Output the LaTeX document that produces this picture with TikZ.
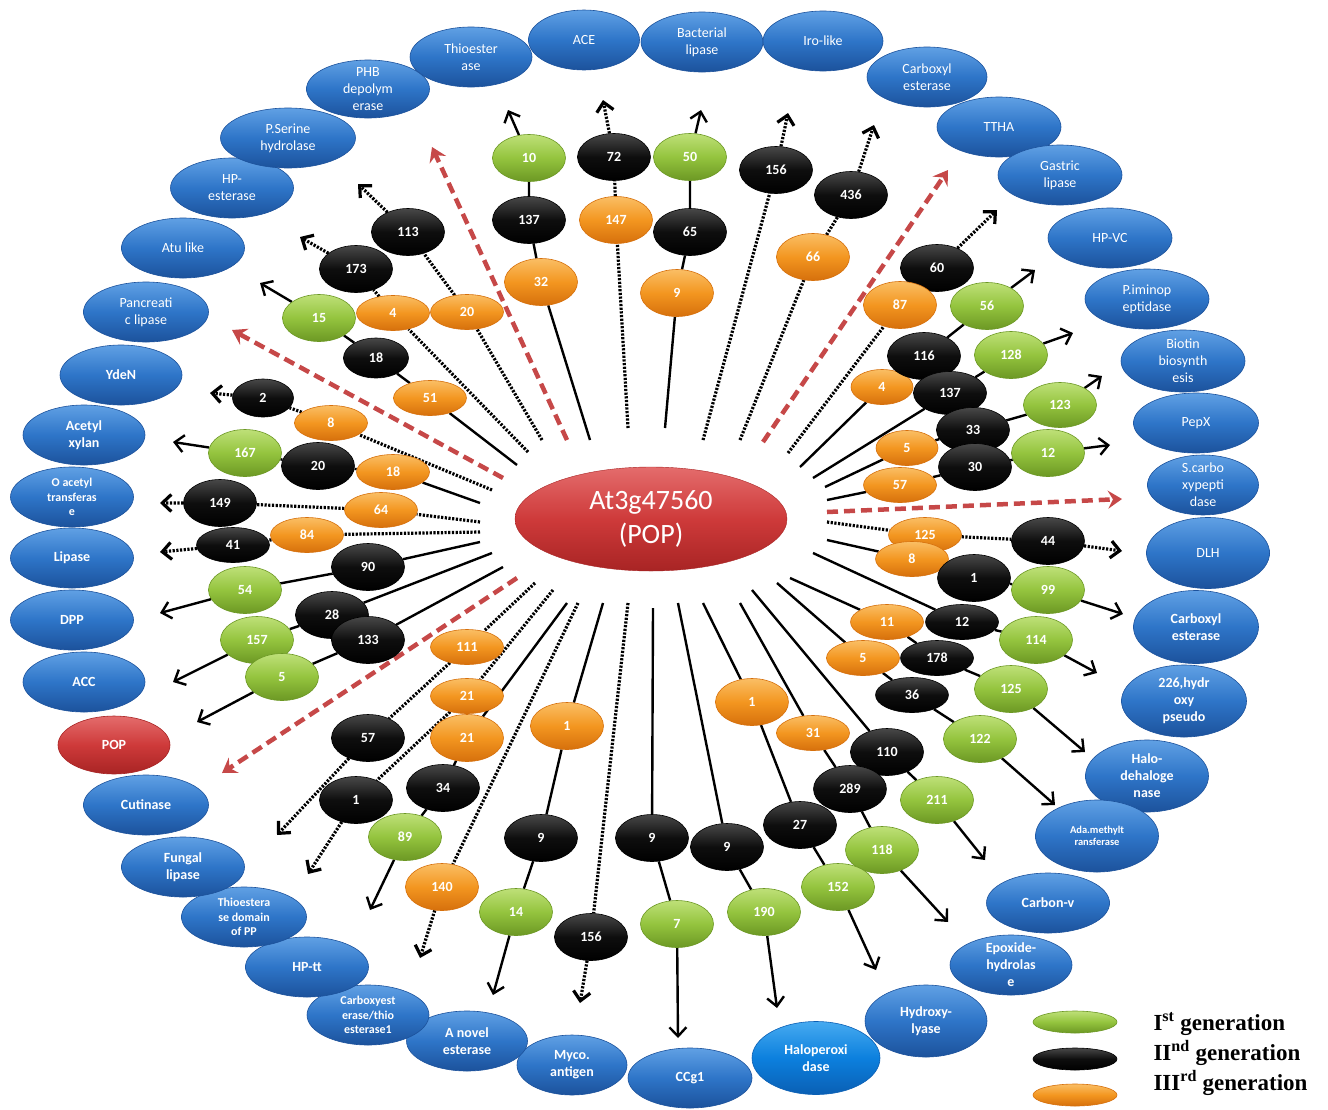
\documentclass[tikz,border=0pt]{standalone}
\usepackage{fontspec}
\setmainfont{Carlito}
\newfontfamily\legendfont{Liberation Serif}
\usetikzlibrary{arrows.meta,positioning,shapes.geometric,backgrounds}

\definecolor{enzmid}{RGB}{46,117,200}
\definecolor{enztop}{RGB}{96,160,228}
\definecolor{enzbot}{RGB}{28,82,156}
\definecolor{halomid}{RGB}{12,128,222}
\definecolor{halotop}{RGB}{70,170,240}
\definecolor{halobot}{RGB}{10,95,180}
\definecolor{grnmid}{RGB}{148,196,62}
\definecolor{grntop}{RGB}{190,224,120}
\definecolor{grnbot}{RGB}{108,152,36}
\definecolor{blkmid}{RGB}{14,14,14}
\definecolor{blktop}{RGB}{72,72,72}
\definecolor{blkbot}{RGB}{0,0,0}
\definecolor{orgmid}{RGB}{243,150,32}
\definecolor{orgtop}{RGB}{250,190,100}
\definecolor{orgbot}{RGB}{214,112,12}
\definecolor{hubmid}{RGB}{206,58,58}
\definecolor{hubtop}{RGB}{228,108,108}
\definecolor{hubbot}{RGB}{168,36,36}
\definecolor{rayred}{RGB}{198,72,72}

\begin{document}
\begin{tikzpicture}[
  x=1pt, y=-1pt,
  >={Straight Barb[length=9pt,width=17pt]},
  enz/.style={ellipse, minimum width=122pt, minimum height=60pt, inner sep=-12pt,
              top color=enztop, bottom color=enzbot, middle color=enzmid,
              draw=enzbot, line width=0.6pt, text=white, align=center,
              font=\fontsize{14}{17}\selectfont},
  enzb/.style={enz, font=\fontsize{14}{17}\selectfont\bfseries},
  smalltxt/.style={font=\fontsize{12}{14.5}\selectfont\bfseries},
  tinytxt/.style={font=\fontsize{10.5}{12}\selectfont\bfseries},
  halo/.style={top color=halotop, bottom color=halobot, middle color=halomid, draw=halobot},
  redenz/.style={top color=hubtop, bottom color=hubbot, middle color=hubmid, draw=hubbot},
  gen/.style={ellipse, minimum width=73pt, minimum height=47pt, inner sep=0pt,
              line width=0.6pt, text=white, font=\fontsize{14}{16}\selectfont\bfseries},
  genI/.style={gen, top color=grntop, bottom color=grnbot, middle color=grnmid, draw=grnbot},
  genII/.style={gen, top color=blktop, bottom color=blkbot, middle color=blkmid, draw=blkbot},
  genIII/.style={gen, top color=orgtop, bottom color=orgbot, middle color=orgmid, draw=orgbot},
  flat/.style={minimum height=35pt},
  legkey/.style={minimum width=84pt, minimum height=22pt},
  legtxt/.style={inner sep=0pt, font=\legendfont\bfseries\fontsize{23}{25}\selectfont},
  hub/.style={ellipse, minimum width=272pt, minimum height=104pt, inner sep=0pt,
              top color=hubtop, bottom color=hubbot, middle color=hubmid, draw=hubbot,
              text=white, align=center, font=\fontsize{28}{34}\selectfont},
  link/.style={->, line width=2.4pt},
  dlink/.style={->, line width=3.2pt, dash pattern=on 2.2pt off 1.5pt},
  ray/.style={rayred, line width=4.5pt, dash pattern=on 11pt off 6pt,
              -{Stealth[length=14pt,width=18pt,inset=5pt]}},
]
\useasboundingbox (0,0) rectangle (1328,1109);

% ---- outer ring: enzyme families, clockwise from the top -----------------
\node[enz] (thioest) at (471,57) {Thioester\\ase};
\node[enz, minimum width=111pt] (ace) at (584,40) {ACE};
\node[enz] (bactlip) at (702,42) {Bacterial\\lipase};
\node[enz, minimum width=120pt] (irolike) at (823,41) {Iro-like};
\node[enz, minimum width=120pt] (carbest) at (927,77) {Carboxyl\\esterase};
\node[enz, minimum width=124pt] (ttha) at (999,127) {TTHA};
\node[enz, minimum width=124pt] (gastric) at (1060,175) {Gastric\\lipase};
\node[enz, minimum width=124pt] (hpvc) at (1110,238) {HP-VC};
\node[enz, minimum width=124pt] (piminop) at (1147,299) {P.iminop\\eptidase};
\node[enz, minimum width=124pt, minimum height=62pt] (biotin) at (1183,361) {Biotin\\biosynth\\esis};
\node[enz, minimum width=125pt] (pepx) at (1196,423) {PepX};
\node[enz, minimum width=111pt] (scarbo) at (1203,485) {S.carbo\\xypepti\\dase};
\node[enz, minimum width=123pt, minimum height=71pt] (dlh) at (1208,553) {DLH};
\node[enzb, minimum width=125pt, minimum height=73pt] (carbest2) at (1196,627) {Carboxyl\\esterase};
\node[enzb, minimum width=125pt, minimum height=72pt] (hydpseudo) at (1184,701) {226,hydr\\oxy\\pseudo};
\node[enzb, minimum width=123pt, minimum height=72pt] (halodeh) at (1147,776) {Halo-\\dehaloge\\nase};
\node[enzb, tinytxt, minimum width=123pt, minimum height=72pt] (adameth) at (1097,836) {Ada.methylt\\ransferase};
\node[enzb, minimum width=123pt] (carbonv) at (1048,903) {Carbon-v};
\node[enzb] (epoxide) at (1011,965) {Epoxide-\\hydrolas\\e};
\node[enzb, minimum height=72pt] (hydlyase) at (926,1021) {Hydroxy-\\lyase};
\node[enzb, halo, minimum width=128pt, minimum height=73pt] (haloper) at (816,1058) {Haloperoxi\\dase};
\node[enzb, minimum width=124pt] (ccg1) at (690,1078) {CCg1};
\node[enzb, minimum width=110pt] (myco) at (572,1065) {Myco.\\antigen};
\node[enzb, minimum width=121pt] (novel) at (467,1041) {A novel\\esterase};
\node[enzb, smalltxt] (carbthio) at (368,1015) {Carboxyest\\erase/thio\\esterase1};
\node[enzb, minimum width=123pt] (hptt) at (307,967) {HP-tt};
\node[enzb, smalltxt, minimum width=125pt] (thiodom) at (244,917) {Thioestera\\se domain\\of PP};
\node[enzb, minimum width=123pt] (fungal) at (183,867) {Fungal\\lipase};
\node[enzb, minimum width=125pt] (cutinase) at (146,805) {Cutinase};
\node[enzb, redenz, minimum width=112pt, minimum height=58pt] (popring) at (114,745) {POP};
\node[enzb] (acc) at (84,682) {ACC};
\node[enzb, minimum width=123pt] (dpp) at (72,620) {DPP};
\node[enzb, minimum width=123pt] (lipase) at (72,558) {Lipase};
\node[enzb, smalltxt, minimum width=123pt] (oacetyl) at (72,497) {O acetyl\\transferas\\e};
\node[enzb] (acetyl) at (84,435) {Acetyl\\xylan};
\node[enzb] (ydeN) at (121,375) {YdeN};
\node[enz, minimum width=125pt] (pancreat) at (146,312) {Pancreati\\c lipase};
\node[enz, minimum width=123pt] (atulike) at (183,248) {Atu like};
\node[enz, minimum width=123pt] (hpester) at (232,188) {HP-\\esterase};
\node[enz, minimum width=135pt] (pserine) at (288,138) {P.Serine\\hydrolase};
\node[enz, minimum width=123pt, minimum height=58pt] (phb) at (368,89) {PHB\\depolym\\erase};

% ---- hub ---------------------------------------------------------------
\node[hub] (hub) at (651,519) {At3g47560\\(POP)};

% ---- top spokes --------------------------------------------------------
\node[genIII] (t1o) at (541,282) {32};
\node[genII]  (t1b) at (529,220) {137};
\node[genI]   (t1g) at (529,158) {10};
\node[genIII] (t2o) at (616,220) {147};
\node[genII]  (t2b) at (614,157) {72};
\node[genIII] (t3o) at (677,293) {9};
\node[genII]  (t3b) at (690,232) {65};
\node[genI]   (t3g) at (690,157) {50};
\node[genII]  (t4b) at (776,170) {156};
\node[genIII] (t5o) at (813,257) {66};
\node[genII]  (t5b) at (851,195) {436};

% ---- right spokes ------------------------------------------------------
\node[genII]  (r1b) at (937,268) {60};
\node[genIII] (r1o) at (900,305) {87};
\node[genIII, flat, minimum width=62pt] (r2o) at (882,387) {4};
\node[genII]  (r2b) at (924,356) {116};
\node[genI]   (r2g) at (987,306) {56};
\node[genII, minimum height=43pt] (r3b) at (950,393) {137};
\node[genI]   (r3g) at (1011,355) {128};
\node[genIII, flat, minimum width=62pt] (r4o) at (907,448) {5};
\node[genII, minimum height=45pt] (r4b) at (973,430) {33};
\node[genI, minimum height=45pt]  (r4g) at (1060,405) {123};
\node[genIII, flat] (r5o) at (900,485) {57};
\node[genII]  (r5b) at (975,467) {30};
\node[genI]   (r5g) at (1048,453) {12};
\node[genIII, flat] (r6o) at (925,535) {125};
\node[genII]  (r6b) at (1048,541) {44};
\node[genIII, flat] (r7o) at (912,559) {8};
\node[genII]  (r7b) at (974,578) {1};
\node[genI]   (r7g) at (1048,590) {99};
\node[genII, flat] (r8b) at (962,622) {12};
\node[genI]   (r8g) at (1036,640) {114};

% ---- bottom spokes -----------------------------------------------------
\node[genIII, flat] (b1o) at (887,622) {11};
\node[genII, flat]  (b1b) at (937,658) {178};
\node[genI]   (b1g) at (1011,689) {125};
\node[genIII, flat] (b2o) at (863,658) {5};
\node[genII, flat]  (b2b) at (912,695) {36};
\node[genI]   (b2g) at (980,739) {122};
\node[genII]  (b3b) at (887,752) {110};
\node[genI]   (b3g) at (937,800) {211};
\node[genIII, flat] (b4o) at (813,733) {31};
\node[genII]  (b4b) at (850,789) {289};
\node[genI]   (b4g) at (882,850) {118};
\node[genIII] (b5o) at (752,702) {1};
\node[genII]  (b5b) at (800,825) {27};
\node[genI]   (b5g) at (838,887) {152};
\node[genII]  (b6b) at (727,847) {9};
\node[genI]   (b6g) at (764,912) {190};
\node[genII]  (b7b) at (652,838) {9};
\node[genI]   (b7g) at (677,924) {7};
\node[genII]  (b8b) at (591,937) {156};
\node[genIII] (b9o) at (567,726) {1};
\node[genII]  (b9b) at (541,838) {9};
\node[genI]   (b9g) at (516,912) {14};
\node[genIII] (b10o) at (442,887) {140};
\node[genIII, flat] (b13o) at (467,647) {111};
\node[genII]  (b13b) at (368,738) {57};
\node[genIII, flat] (b12o) at (467,696) {21};
\node[genII]  (b12b) at (356,800) {1};
\node[genIII] (b11o) at (467,738) {21};
\node[genII]  (b11b) at (443,788) {34};
\node[genI]   (b11g) at (405,837) {89};

% ---- left spokes -------------------------------------------------------
\node[genIII, flat] (l10o) at (467,312) {20};
\node[genII]  (l10b) at (408,232) {113};
\node[genIII, flat] (l9o) at (393,313) {4};
\node[genII]  (l9b) at (356,269) {173};
\node[genIII, flat] (l8o) at (430,398) {51};
\node[genII, minimum width=65pt, minimum height=40pt] (l8b) at (376,358) {18};
\node[genI]   (l8g) at (319,318) {15};
\node[genIII, flat] (l7o) at (331,423) {8};
\node[genII, minimum width=61pt, minimum height=38pt] (l7b) at (263,398) {2};
\node[genIII, flat] (l6o) at (393,472) {18};
\node[genII]  (l6b) at (318,466) {20};
\node[genI]   (l6g) at (245,453) {167};
\node[genIII, flat] (l5o) at (381,510) {64};
\node[genII]  (l5b) at (220,503) {149};
\node[genIII, flat] (l4o) at (307,535) {84};
\node[genII, flat] (l4b) at (233,545) {41};
\node[genII]  (l3b) at (368,567) {90};
\node[genI]   (l3g) at (245,590) {54};
\node[genII]  (l2b) at (332,615) {28};
\node[genI]   (l2g) at (257,640) {157};
\node[genII]  (l1b) at (368,640) {133};
\node[genI]   (l1g) at (282,677) {5};

% ---- legend ------------------------------------------------------------
\node[genI, legkey]   (legI)   at (1075,1022) {};
\node[genII, legkey]  (legII)  at (1075,1059) {};
\node[genIII, legkey] (legIII) at (1075,1095) {};
\node[legtxt, right=36pt of legI, yshift=-2pt]    (txtI)   {I\textsuperscript{st} generation};
\node[legtxt, right=36pt of legII, yshift=6pt]    (txtII)  {II\textsuperscript{nd} generation};
\node[legtxt, right=36pt of legIII, yshift=12pt]  (txtIII) {III\textsuperscript{rd} generation};

% ---- spoke ends near the hub and arrow ends near the ring --------------
\coordinate (t1s) at (590,440);  \coordinate (t1e) at (508,110);
\coordinate (t2s) at (628,428);  \coordinate (t2e) at (603,100);
\coordinate (t3s) at (665,428);  \coordinate (t3e) at (701,110);
\coordinate (t4s) at (703,440);  \coordinate (t4e) at (788,113);
\coordinate (t5s) at (740,440);  \coordinate (t5e) at (874,125);
\coordinate (r1s) at (788,453);  \coordinate (r1e) at (997,210);
\coordinate (r2s) at (800,467);  \coordinate (r2e) at (1035,270);
\coordinate (r3s) at (813,478);  \coordinate (r3e) at (1073,333);
\coordinate (r4s) at (825,487);  \coordinate (r4e) at (1102,376);
\coordinate (r5s) at (827,500);  \coordinate (r5e) at (1110,445);
\coordinate (r6s) at (827,522);  \coordinate (r6e) at (1122,551);
\coordinate (r7s) at (827,540);  \coordinate (r7e) at (1123,614);
\coordinate (r8s) at (813,553);  \coordinate (r8e) at (1097,673);
\coordinate (b1s) at (790,578);  \coordinate (b1e) at (1085,752);
\coordinate (b2s) at (777,583);  \coordinate (b2e) at (1055,805);
\coordinate (b3s) at (752,590);  \coordinate (b3e) at (985,860);
\coordinate (b4s) at (740,603);  \coordinate (b4e) at (948,922);
\coordinate (b5s) at (703,603);  \coordinate (b5e) at (876,970);
\coordinate (b6s) at (678,603);  \coordinate (b6e) at (777,1008);
\coordinate (b7s) at (653,608);  \coordinate (b7e) at (678,1038);
\coordinate (b8s) at (628,603);  \coordinate (b8e) at (580,1003);
\coordinate (b9s) at (603,603);  \coordinate (b9e) at (493,995);
\coordinate (b10s) at (578,603); \coordinate (b10e) at (420,958);
\coordinate (b11s) at (567,603); \coordinate (b11e) at (370,910);
\coordinate (b12s) at (553,590); \coordinate (b12e) at (308,874);
\coordinate (b13s) at (535,583); \coordinate (b13e) at (277,835);
\coordinate (l1s) at (503,567);  \coordinate (l1e) at (197,722);
\coordinate (l2s) at (492,553);  \coordinate (l2e) at (173,682);
\coordinate (l3s) at (480,542);  \coordinate (l3e) at (160,613);
\coordinate (l4s) at (480,532);  \coordinate (l4e) at (160,552);
\coordinate (l5s) at (480,522);  \coordinate (l5e) at (160,503);
\coordinate (l6s) at (480,503);  \coordinate (l6e) at (173,442);
\coordinate (l7s) at (492,490);  \coordinate (l7e) at (210,393);
\coordinate (l8s) at (517,465);  \coordinate (l8e) at (260,283);
\coordinate (l9s) at (528,452);  \coordinate (l9e) at (300,237);
\coordinate (l10s) at (542,440); \coordinate (l10e) at (358,184);
% red dashed rays
\coordinate (ray1s) at (567,440); \coordinate (ray1e) at (432,147);
\coordinate (ray2s) at (503,478); \coordinate (ray2e) at (232,330);
\coordinate (ray3s) at (517,578); \coordinate (ray3e) at (222,773);
\coordinate (ray4s) at (763,442); \coordinate (ray4e) at (948,170);
\coordinate (ray5s) at (827,512); \coordinate (ray5e) at (1122,499);

% ---- connectors (behind the ellipses) ----------------------------------
\begin{scope}[on background layer]
  % top
  \draw[link]  (t1s) -- (t1o) -- (t1b) -- (t1g) -- (t1e);
  \draw[dlink] (t2s) -- (t2o) -- (t2b) -- (t2e);
  \draw[link]  (t3s) -- (t3o) -- (t3b) -- (t3g) -- (t3e);
  \draw[dlink] (t4s) -- (t4b) -- (t4e);
  \draw[dlink] (t5s) -- (t5o) -- (t5b) -- (t5e);
  % right
  \draw[dlink] (r1s) -- (r1o) -- (r1b) -- (r1e);
  \draw[link]  (r2s) -- (r2o) -- (r2b) -- (r2g) -- (r2e);
  \draw[link]  (r3s) -- (r3b) -- (r3g) -- (r3e);
  \draw[link]  (r4s) -- (r4o) -- (r4b) -- (r4g) -- (r4e);
  \draw[link]  (r5s) -- (r5o) -- (r5b) -- (r5g) -- (r5e);
  \draw[dlink] (r6s) -- (r6o) -- (r6b) -- (r6e);
  \draw[link]  (r7s) -- (r7o) -- (r7b) -- (r7g) -- (r7e);
  \draw[link]  (r8s) -- (r8b) -- (r8g) -- (r8e);
  % bottom
  \draw[link]  (b1s) -- (b1o) -- (b1b) -- (b1g) -- (b1e);
  \draw[link]  (b2s) -- (b2o) -- (b2b) -- (b2g) -- (b2e);
  \draw[link]  (b3s) -- (b3b) -- (b3g) -- (b3e);
  \draw[link]  (b4s) -- (b4o) -- (b4b) -- (b4g) -- (b4e);
  \draw[link]  (b5s) -- (b5o) -- (b5b) -- (b5g) -- (b5e);
  \draw[link]  (b6s) -- (b6b) -- (b6g) -- (b6e);
  \draw[link]  (b7s) -- (b7b) -- (b7g) -- (b7e);
  \draw[dlink] (b8s) -- (b8b) -- (b8e);
  \draw[link]  (b9s) -- (b9o) -- (b9b) -- (b9g) -- (b9e);
  \draw[dlink] (b10s) -- (b10o) -- (b10e);
  \draw[link]  (b11s) -- (b11o) -- (b11b) -- (b11g) -- (b11e);
  \draw[dlink] (b12s) -- (b12o) -- (b12b) -- (b12e);
  \draw[dlink] (b13s) -- (b13o) -- (b13b) -- (b13e);
  % left
  \draw[link]  (l1s) -- (l1b) -- (l1g) -- (l1e);
  \draw[link]  (l2s) -- (l2b) -- (l2g) -- (l2e);
  \draw[link]  (l3s) -- (l3b) -- (l3g) -- (l3e);
  \draw[dlink] (l4s) -- (l4o) -- (l4b) -- (l4e);
  \draw[dlink] (l5s) -- (l5o) -- (l5b) -- (l5e);
  \draw[link]  (l6s) -- (l6o) -- (l6b) -- (l6g) -- (l6e);
  \draw[dlink] (l7s) -- (l7o) -- (l7b) -- (l7e);
  \draw[link]  (l8s) -- (l8o) -- (l8b) -- (l8g) -- (l8e);
  \draw[dlink] (l9s) -- (l9o) -- (l9b) -- (l9e);
  \draw[dlink] (l10s) -- (l10o) -- (l10b) -- (l10e);
  % red rays
  \draw[ray] (ray1s) -- (ray1e);
  \draw[ray] (ray2s) -- (ray2e);
  \draw[ray] (ray3s) -- (ray3e);
  \draw[ray] (ray4s) -- (ray4e);
  \draw[ray] (ray5s) -- (ray5e);
\end{scope}

\end{tikzpicture}
\end{document}
